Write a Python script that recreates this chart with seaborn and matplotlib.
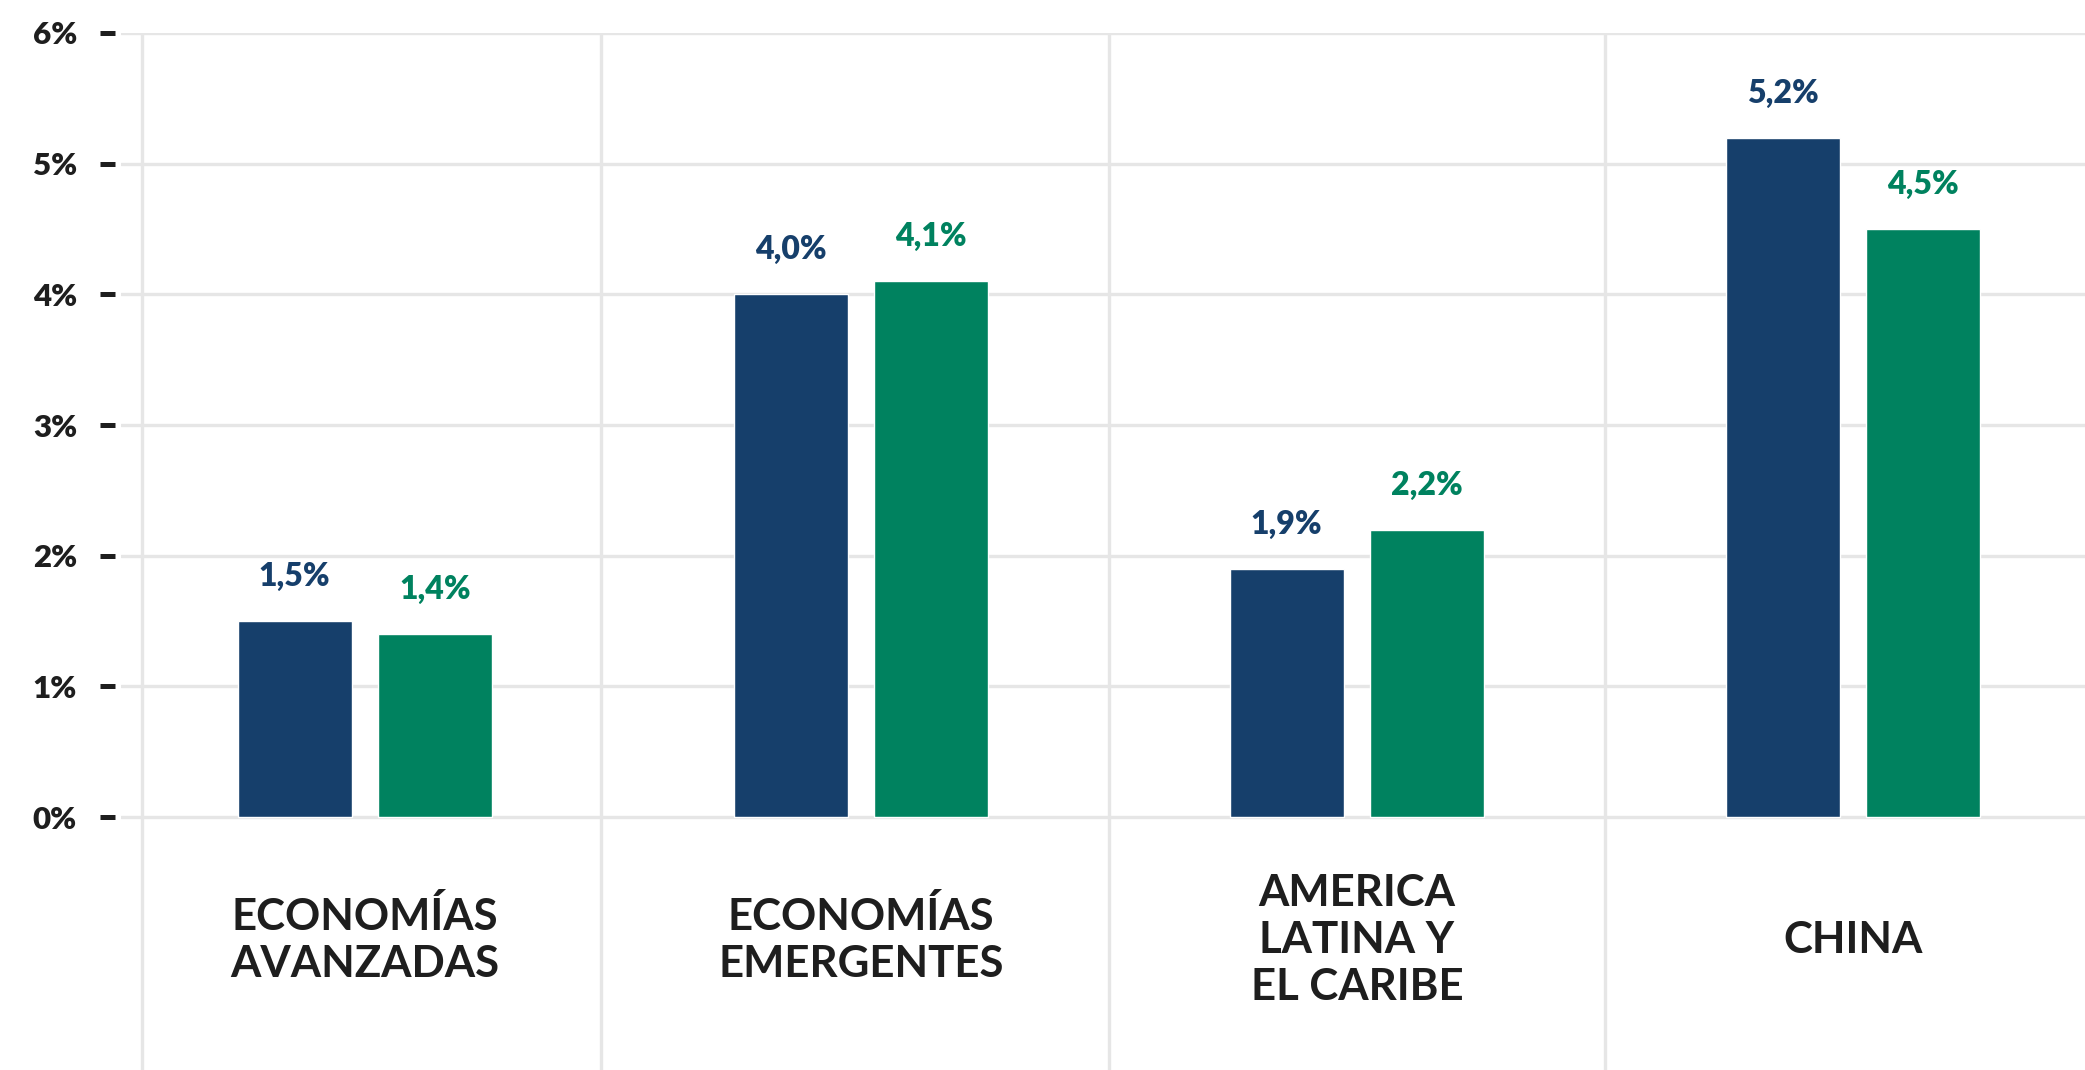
import matplotlib
matplotlib.use("Agg")
import matplotlib.pyplot as plt
import seaborn as sns
import pandas as pd

# ---- data ----
categorias = ["ECONOMÍAS\nAVANZADAS", "ECONOMÍAS\nEMERGENTES", "AMERICA\nLATINA Y\nEL CARIBE", "CHINA"]
series = ["serie_1", "serie_2"]
valores_serie_1 = [1.5, 4.0, 1.9, 5.2]
valores_serie_2 = [1.4, 4.1, 2.2, 4.5]
y_ticks = [0, 1, 2, 3, 4, 5, 6]
y_tick_labels = ["0%", "1%", "2%", "3%", "4%", "5%", "6%"]

# ---- style ----
AZUL = "#163F6B"
VERDE = "#00825F"
TEXTO = "#1E1E1E"
GRID = "#E6E6E6"

sns.set_theme(style="white")
plt.rcParams["font.family"] = ["Lato", "DejaVu Sans"]

df = pd.DataFrame({
    "categoria": categorias * 2,
    "serie": [series[0]] * len(categorias) + [series[1]] * len(categorias),
    "valor": valores_serie_1 + valores_serie_2,
})

fig = plt.figure(figsize=(20.85, 10.70), dpi=100)
ax = fig.add_axes([121 / 2085, 0.0, 1 - 121 / 2085, (1070 - 33) / 1070])

sns.barplot(data=df, x="categoria", y="valor", hue="serie", order=categorias,
            hue_order=series, palette=[AZUL, VERDE], saturation=1,
            width=0.567, gap=0.19, legend=False, ax=ax, zorder=3)

ax.set_xlim(-0.492, 3.468)
ax.set_ylim(-1.936, 6)

# grid
ax.set_yticks(y_ticks)
ax.set_yticklabels(y_tick_labels)
ax.yaxis.grid(True, color=GRID, linewidth=2.4, zorder=0)
ax.set_axisbelow(True)
for xv in [-0.449, 0.476, 1.5, 2.5]:
    ax.axvline(xv, ymin=0, ymax=1, color=GRID, linewidth=2.4, zorder=0)

ax.set_xticks([])
ax.set_xlabel("")
ax.set_ylabel("")
for s in ["top", "right", "bottom"]:
    ax.spines[s].set_visible(False)
ax.spines["left"].set_position(("outward", 4.3))
ax.spines["left"].set_visible(False)
ax.tick_params(axis="y", which="major", direction="out", length=10.8, width=3.6,
               color=TEXTO, pad=16.5, labelsize=22.5, labelcolor=TEXTO, left=True)
for lbl in ax.get_yticklabels():
    lbl.set_fontweight("heavy")

# value labels
for cont, color in zip(ax.containers, [AZUL, VERDE]):
    for rect in cont:
        h = rect.get_height()
        ax.annotate(f"{h:.1f}".replace(".", ",") + "%",
                    (rect.get_x() + rect.get_width() / 2, h),
                    xytext=(0, 32), textcoords="offset points",
                    ha="center", va="center", fontsize=23, fontweight="heavy",
                    color=color)

# category labels
for i, cat in enumerate(categorias):
    ax.text(i, -0.94, cat, ha="center", va="center", fontsize=31.5,
            fontweight="bold", color=TEXTO, linespacing=1.22)

fig.savefig("out.png", dpi=100)
